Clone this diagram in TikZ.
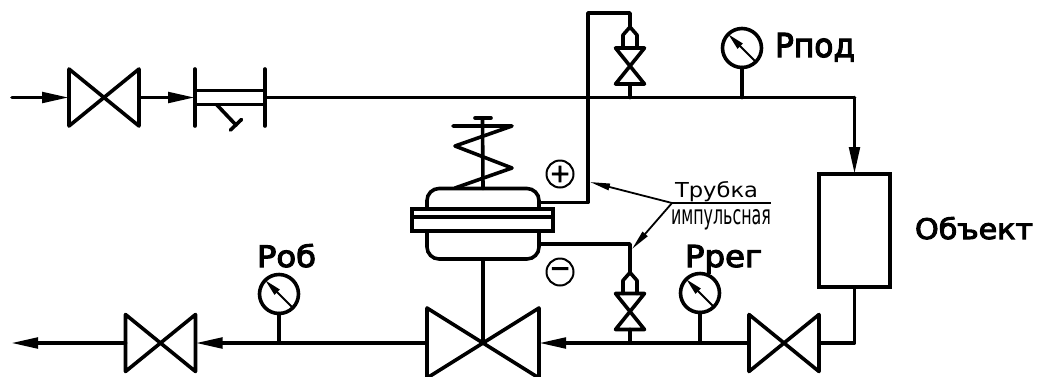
\documentclass[tikz,border=0pt]{standalone}
\usepackage{fontspec}
\usepackage{graphicx}
\usetikzlibrary{arrows.meta,calc}
\newfontfamily\isofont[RawFeature={embolden=3.5}]{DejaVu Sans}
\newfontfamily\isothin{DejaVu Sans}
\tikzset{%
    pipe/.style={line width=3.6pt, line join=round, line cap=round},
    flow/.style={pipe, -{Triangle[length=27pt,width=10.5pt]}},
    leader/.style={line width=1.8pt, -{Triangle[length=20pt,width=6.5pt]}},
    valvebox/.style={minimum width=70pt, minimum height=57pt, inner sep=0pt, outer sep=0pt},
    smallvalve/.style={minimum width=29pt, minimum height=36pt, inner sep=0pt, outer sep=0pt},
    gaugebox/.style={circle, draw, line width=3.6pt, minimum size=39pt, inner sep=0pt, outer sep=0pt},
    signbox/.style={circle, draw, line width=2pt, minimum size=27pt, inner sep=0pt, outer sep=0pt},
    lbl/.style={inner sep=0pt, outer sep=0pt, anchor=base west}
}
\newcommand{\valvecross}[1]{%
    \draw[pipe] (#1.north west)--(#1.south east)--(#1.north east)--(#1.south west)--cycle;}
\newcommand{\needlevalve}[2]{%
    \node[smallvalve] (#1) at (#2) {};
    \draw[pipe] (#1.north west)--(#1.south east)--(#1.south west)--(#1.north east)--cycle;
    \coordinate (#1cap) at ($(#1)+(0,-39)$);
    \draw[pipe] ($(#1)+(-7,-18)$)--($(#1)+(-7,-31)$)--(#1cap)--($(#1)+(7,-31)$)--($(#1)+(7,-18)$);}
\newcommand{\gauge}[2]{%
    \node[gaugebox] (#1) at (#2) {};
    \draw[line width=2pt, -{Triangle[length=17pt,width=7pt]}] (#1.-45) -- (#1.135);}
\newcommand{\fitlbl}[4]{\resizebox{#1pt}{#2pt}{#3{}#4}}

\begin{document}
\begin{tikzpicture}[x=1pt,y=-1pt]
    \useasboundingbox (0,0) rectangle (1041,376);
    % junctions on the supply line
    \coordinate (inL) at (12,97.5);
    \coordinate (jTop) at (630,97.5);
    \coordinate (jPod) at (742,97.5);
    \coordinate (cTR) at (854.5,97.5);
    % junctions on the return line
    \coordinate (cBR) at (854.5,343);
    \coordinate (jReg) at (700,343);
    \coordinate (jLow) at (630,343);
    \coordinate (jOb) at (279,343);
    \coordinate (outL) at (11,343);

    \node[valvebox] (vIn) at (104,97.5) {};
    \valvecross{vIn}
    \node[valvebox] (filter) at (230,97.5) {};
    \node[valvebox] (vObj) at (784,343) {};
    \valvecross{vObj}
    \node[valvebox, minimum width=112pt, minimum height=70pt] (vMain) at (483,343) {};
    \valvecross{vMain}
    \node[valvebox] (vOut) at (160.5,343) {};
    \valvecross{vOut}
    \node[draw, line width=3.6pt, minimum width=71pt, minimum height=113pt, inner sep=0pt, outer sep=0pt] (obj) at (854.5,230.5) {};

    % filter
    \draw[pipe] (filter.north west) -- (filter.south west);
    \draw[pipe] (filter.north east) -- (filter.south east);
    \draw[pipe] ($(filter.west)+(0,-7)$) -- ($(filter.east)+(0,-7)$);
    \draw[pipe] ($(filter.west)+(0,7)$) -- ($(filter.east)+(0,7)$);
    \draw[pipe] (217,105) -- (236,125);
    \draw[pipe] (230.5,130) -- (241.5,119.5);

    % main line
    \draw[flow] (inL) -- (vIn);
    \draw[flow] (vIn) -- (filter.west);
    \draw[pipe] (filter.east) -- (cTR);
    \draw[flow] (cTR) -- (obj);
    \draw[pipe] (obj) -- (cBR) -- (vObj);
    \draw[flow] (vObj) -- (vMain);
    \draw[flow] (vMain) -- (vOut);
    \draw[flow] (vOut) -- (outL);

    % gauges
    \gauge{gPod}{742,48}
    \gauge{gReg}{700,293}
    \gauge{gOb}{279,294}
    \draw[pipe] (gPod) -- (jPod);
    \draw[pipe] (gReg) -- (jReg);
    \draw[pipe] (gOb) -- (jOb);

    % actuator
    \node[draw, line width=3.6pt, rounded corners=12pt, minimum width=112pt, minimum height=70.5pt, inner sep=0pt, outer sep=0pt] (body) at (483,223.75) {};
    \node[draw, line width=3.6pt, fill=white, minimum width=141pt, minimum height=22pt, inner sep=0pt, outer sep=0pt] (flange) at (482.5,220) {};
    \draw[pipe] ($(flange.west)+(0,-3)$) -- ($(flange.east)+(0,-3)$);
    \draw[pipe] (body) -- (vMain.center);
    \coordinate (sTop) at (482.5,118);
    \draw[pipe] (sTop) -- (body.north);
    \draw[pipe] (475,118) -- (491,118);
    \draw[pipe] (455,188) -- (512,168) -- (455,146) -- (512,126) -- (453,126);

    % impulse tubes
    \needlevalve{nvTop}{630,66}
    \needlevalve{nvLow}{630,311.5}
    \coordinate (tapP) at (539,202.5);
    \coordinate (cPlus) at (588,202.5);
    \coordinate (cUpL) at (588,13);
    \coordinate (cUpR) at (630,13);
    \coordinate (tapM) at (539,244);
    \coordinate (cLow) at (630,244);
    \draw[pipe] (tapP) -- (cPlus) -- (cUpL) -- (cUpR) -- (nvTopcap);
    \draw[pipe] (nvTop) -- (jTop);
    \draw[pipe] (tapM) -- (cLow) -- (nvLowcap);
    \draw[pipe] (nvLow) -- (jLow);

    % signs
    \node[signbox, font={\isofont\fontsize{25}{25}\selectfont}] (plus) at (560,174) {+};
    \node[signbox, font={\isofont\fontsize{25}{25}\selectfont}] (minus) at (560,272) {−};

    % leader lines and labels
    \coordinate (lead) at (672,203);
    \coordinate (leadEnd) at (771,203);
    \coordinate (tipP) at (590,182);
    \coordinate (tipM) at (632,249);
    \draw[line width=1.8pt] (lead) -- (leadEnd);
    \draw[leader] (lead) -- (tipP);
    \draw[leader] (lead) -- (tipM);
    \node[lbl] (lTube) at (675,197) {\fitlbl{83}{16}{\isothin}{Трубка}};
    \node[lbl] (lImp) at (671,224) {\fitlbl{100}{15}{\isothin}{импульсная}};
    \node[lbl] (lPod) at (775,57) {\fitlbl{80}{24}{\isofont}{Рпод}};
    \node[lbl] (lReg) at (685,267) {\fitlbl{77}{22}{\isofont}{Ррег}};
    \node[lbl] (lOb) at (257,267) {\fitlbl{59}{23}{\isofont}{Роб}};
    \node[lbl] (lObj) at (915,239) {\fitlbl{118}{22}{\isofont}{Объект}};
\end{tikzpicture}
\end{document}
